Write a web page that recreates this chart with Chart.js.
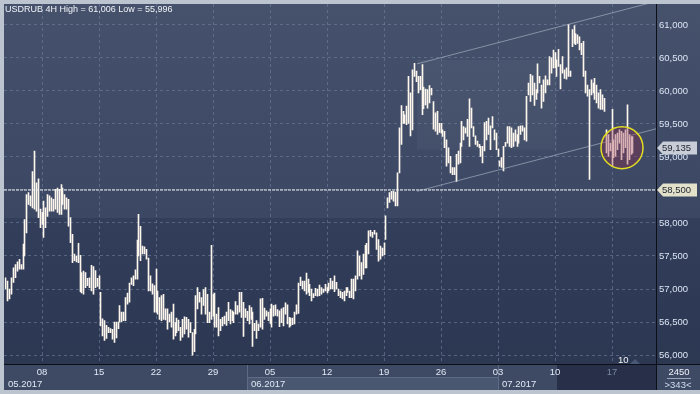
<!DOCTYPE html>
<html>
<head>
<meta charset="utf-8">
<script src="https://cdn.jsdelivr.net/npm/chart.js@4.4.0/dist/chart.umd.min.js"></script>
<style>
  html, body { margin: 0; padding: 0; background: #bcc4cf; }
  #wrap { width: 700px; height: 394px; }
</style>
</head>
<body>
<div id="wrap"><canvas id="chart" width="700" height="394"></canvas></div>
<script>
// USDRUB 4H, one bar per 4 hours, 30 bars per trading week
const weekLabels = ['08', '15', '22', '29', '05', '12', '19', '26', '03', '10', '17']
const weekStartIdx = [19, 49, 79, 109, 139, 169, 199, 229, 259, 289, 319]
const monthLabels = ['05.2017', '06.2017', '07.2017']
const monthStartIdx = [-0.74, 127, 259]
const darkFromIdx = 290.5
const yTicks = [56, 56.5, 57, 57.5, 58, 58.5, 59, 59.5, 60, 60.5, 61]

const barHigh = [
  57.17, 57.12, 57.00, 57.17, 57.32, 57.37, 57.41, 57.45, 57.37, 57.68,
  58.05, 58.43, 58.46, 58.41, 58.78, 59.09, 58.61, 58.67, 58.21, 58.16,
  58.33, 58.23, 58.43, 58.41, 58.38, 58.36, 58.51, 58.53, 58.51, 58.58,
  58.53, 58.43, 58.38, 58.36, 58.08, 57.83, 57.53, 57.50, 57.69, 57.51,
  57.25, 57.27, 57.25, 57.16, 57.17, 57.36, 57.34, 57.28, 57.16, 57.20,
  56.95, 56.55, 56.52, 56.45, 56.42, 56.40, 56.39, 56.50, 56.50, 56.50,
  56.75, 56.65, 56.65, 56.87, 56.94, 57.09, 57.17, 57.20, 57.29, 57.74,
  58.13, 57.95, 57.65, 57.64, 57.60, 57.47, 57.20, 57.08, 57.05, 57.30,
  56.97, 56.87, 56.90, 56.92, 56.70, 56.70, 56.62, 56.65, 56.77,
  56.49, 56.56, 56.53, 56.42, 56.54, 56.58, 56.57, 56.54, 56.49, 56.34,
  56.39, 56.90, 57.02, 56.95, 56.87, 56.99, 57.02, 56.92, 56.65, 57.66,
  56.92, 56.94, 56.62, 56.72, 56.54, 56.57, 56.59, 56.65, 56.80, 56.69,
  56.67, 56.65, 56.81, 56.75, 56.95, 56.95, 56.80, 56.70, 56.66, 56.75,
  56.72, 56.65, 56.48, 56.52, 56.47, 56.85, 56.86, 56.71, 56.67, 56.65,
  56.70, 56.77, 56.75, 56.76, 56.69, 56.67, 56.70, 56.72, 56.79, 56.76,
  56.57, 56.56, 56.56, 56.65, 56.76, 57.09, 57.18, 57.12, 57.12, 57.24,
  57.15, 57.07, 57.00, 56.93, 57.01, 57.00, 57.06, 57.02, 57.00, 57.07,
  57.02, 57.09, 57.16, 57.12, 57.20, 57.10, 57.00, 56.97, 56.95, 56.97,
  57.02, 57.02, 56.97, 57.15, 57.15, 57.20, 57.58, 57.50, 57.40, 57.53,
  57.66, 57.69, 57.88, 57.89, 57.86, 57.89,
  57.85, 57.75, 57.65, 57.62, 57.70,
  58.11, 58.38, 58.46, 58.48, 58.48, 58.47, 58.76, 59.44, 59.78, 59.69,
  59.64, 59.77, 60.22, 59.97, 60.32, 60.42, 60.30, 60.22, 60.22, 60.40,
  60.06, 60.03, 60.02, 60.08, 60.04, 59.84, 59.67, 59.69, 59.51, 59.51,
  59.41, 59.39, 59.26, 59.14, 59.01, 58.84, 58.84, 59.04, 59.09, 59.21,
  59.54, 59.46, 59.44, 59.57, 59.88, 59.74, 59.46, 59.32, 59.24, 59.19,
  59.16, 59.16, 59.52, 59.54, 59.59, 59.47, 59.61, 59.41, 59.36, 59.12,
  58.94, 58.99, 59.16, 59.22, 59.46, 59.46, 59.44, 59.36, 59.41, 59.34,
  59.46, 59.47, 59.47, 59.44, 59.92, 60.12, 60.25, 60.23, 60.12, 60.02,
  60.41, 60.22, 60.09, 60.17, 60.23, 60.17, 60.52, 60.50, 60.62, 60.58,
  60.47, 60.63, 60.40, 60.52, 60.32, 60.35, 61.006, 60.30, 60.93, 60.99,
  60.87, 60.85, 60.82, 60.72, 60.75, 60.30, 60.09, 60.02, 60.17, 60.12,
  60.19, 60.09, 59.97,
  60.02, 59.94, 59.89, 59.41, 59.34, 59.21, 59.72, 59.26, 59.34, 59.36,
  59.41, 59.39, 59.36, 59.41, 59.79, 59.34, 59.31, 59.31
]

const barLow = [
  57.00, 56.82, 56.85, 56.92, 57.10, 57.17, 57.27, 57.30, 57.30, 57.30,
  57.50, 57.85, 58.28, 58.26, 58.23, 58.21, 58.18, 58.08, 57.93, 57.98,
  57.78, 57.93, 58.10, 58.18, 58.18, 58.18, 58.21, 58.16, 58.13, 58.13,
  58.28, 58.21, 58.21, 57.95, 57.70, 57.40, 57.43, 57.41, 57.40, 56.96,
  56.94, 56.92, 57.02, 57.05, 57.02, 56.97, 56.92, 57.02, 57.04, 57.00,
  56.44, 56.29, 56.22, 56.25, 56.34, 56.34, 56.24, 56.19, 56.26, 56.40,
  56.50, 56.50, 56.52, 56.52, 56.77, 56.80, 57.07, 57.05, 57.15, 57.15,
  57.50, 57.43, 57.53, 57.53, 57.45, 56.97, 56.97, 56.92, 56.65, 56.65,
  56.62, 56.54, 56.52, 56.54, 56.53, 56.39, 56.50, 56.42, 56.24,
  56.29, 56.34, 56.37, 56.22, 56.27, 56.32, 56.39, 56.27, 56.34, 55.996,
  56.05, 56.32, 56.70, 56.80, 56.62, 56.75, 56.62, 56.49, 56.49, 56.54,
  56.59, 56.42, 56.42, 56.29, 56.37, 56.44, 56.47, 56.45, 56.52, 56.47,
  56.52, 56.49, 56.62, 56.62, 56.65, 56.57, 56.28, 56.57, 56.52, 56.47,
  56.54, 56.13, 56.37, 56.25, 56.37, 56.42, 56.39, 56.54, 56.59, 56.52,
  56.48, 56.42, 56.59, 56.60, 56.59, 56.43, 56.49, 56.44, 56.62, 56.47,
  56.42, 56.44, 56.46, 56.47, 56.62, 56.63, 57.05, 57.00, 56.97, 56.92,
  56.95, 56.90, 56.82, 56.87, 56.90, 56.89, 56.90, 56.92, 56.95, 56.97,
  56.94, 56.97, 57.00, 57.00, 56.96, 57.00, 56.90, 56.87, 56.85, 56.82,
  56.90, 56.95, 56.87, 56.87, 56.85, 56.97, 57.15, 57.20, 57.15, 57.22,
  57.32, 57.32, 57.53, 57.80, 57.78, 57.83,
  57.60, 57.42, 57.45, 57.50, 57.52,
  57.75, 58.23, 58.31, 58.36, 58.33, 58.26, 58.26, 58.76, 59.19, 59.51,
  59.51, 59.49, 59.51, 59.32, 59.41, 60.22, 60.14, 59.97, 60.02, 59.64,
  59.73, 59.79, 59.74, 59.82, 59.94, 59.42, 59.39, 59.34, 59.37, 59.36,
  59.31, 59.14, 58.86, 58.91, 58.76, 58.73, 58.73, 58.63, 58.89, 58.91,
  59.16, 59.26, 59.36, 59.31, 59.16, 59.44, 59.31, 59.19, 59.16, 59.14,
  59.01, 58.91, 59.09, 59.26, 59.34, 59.11, 59.44, 59.26, 59.11, 59.01,
  58.86, 58.84, 58.79, 59.16, 59.21, 59.16, 59.14, 59.16, 59.24, 59.16,
  59.21, 59.34, 59.39, 59.26, 59.24, 59.94, 59.84, 59.94, 59.78, 59.87,
  59.97, 60.12, 59.74, 59.84, 59.97, 60.09, 60.09, 60.27, 60.35, 60.35,
  60.22, 60.37, 60.03, 60.27, 60.19, 60.18, 60.22, 60.22, 60.67, 60.72,
  60.70, 60.72, 60.62, 60.55, 60.22, 59.97, 59.92, 58.66, 59.94, 59.97,
  59.87, 59.82, 59.74,
  59.72, 59.72, 59.69, 59.06, 59.01, 59.09, 58.86, 58.99, 59.01, 59.11,
  59.21, 58.96, 59.06, 59.14, 58.89, 58.96, 59.04, 59.06
]

// drawn objects: trend channel, support level, circle, shaded box
const channelIdx = [216.6, 343]
const channelUpper = [60.41, 61.36]
const channelLower = [58.48, 59.43]
const levelPrice = 58.5
const lastPrice = 59.135
const circlePoint = { x: 324.5, y: 59.14 }
const boxIdx = [216.6, 290.5]
const boxPrice = [60.47, 59.11]

const FONT = "'Liberation Sans', Arial, sans-serif"
const fmt = v => v.toFixed(3).replace('.', ',')

const bars = barHigh.map((h, i) => ({ x: i, y: [barLow[i], h] }))

const panelPlugin = {
    id: 'panel',
    beforeDraw(chart) {
        const { ctx, chartArea: a, scales: { x, y } } = chart
        const W = chart.width, H = chart.height
        ctx.save()
        ctx.fillStyle = '#bcc4cf'
        ctx.fillRect(0, 0, W, H)
        // plot + right axis background, two bands
        const split = 218
        let g = ctx.createLinearGradient(0, 4, 0, split)
        g.addColorStop(0, '#46526c')
        g.addColorStop(1, '#3b4763')
        ctx.fillStyle = g
        ctx.fillRect(4, 4, W - 4, split - 4)
        g = ctx.createLinearGradient(0, split, 0, a.bottom)
        g.addColorStop(0, '#323e5a')
        g.addColorStop(1, '#2c3852')
        ctx.fillStyle = g
        ctx.fillRect(4, split, W - 4, a.bottom - split)
        // shaded box
        const bx0 = x.getPixelForValue(boxIdx[0]), bx1 = x.getPixelForValue(boxIdx[1])
        const by0 = y.getPixelForValue(boxPrice[0]), by1 = y.getPixelForValue(boxPrice[1])
        ctx.fillStyle = 'rgba(255,255,255,0.035)'
        ctx.fillRect(bx0, by0, bx1 - bx0, by1 - by0)
        // bottom time panel
        const top = a.bottom, bot = H - 4
        ctx.fillStyle = '#3e4a64'
        ctx.fillRect(4, top, W - 4, bot - top)
        const m1 = x.getPixelForValue(monthStartIdx[1]), m2 = x.getPixelForValue(monthStartIdx[2])
        ctx.fillStyle = '#4a5771'
        ctx.fillRect(m1, top + 13, m2 - m1, bot - top - 13)
        const d0 = x.getPixelForValue(darkFromIdx)
        ctx.fillStyle = '#273048'
        ctx.fillRect(d0, top, a.right - d0, bot - top)
        ctx.strokeStyle = '#5f6b85'
        ctx.lineWidth = 1
        ctx.beginPath()
        for (const m of [m1, m2]) {
            ctx.moveTo(Math.round(m) + 0.5, top)
            ctx.lineTo(Math.round(m) + 0.5, bot)
        }
        ctx.moveTo(m1, top + 13.5)
        ctx.lineTo(m2, top + 13.5)
        ctx.stroke()
        ctx.restore()
    },
    // bars sit on whole pixels; shift half a pixel so 1px bars are crisp
    beforeDatasetDraw(chart, args) {
        if (args.meta.type === 'bar') {
            chart.ctx.save()
            chart.ctx.translate(0.5, 0)
        }
    },
    afterDatasetDraw(chart, args) {
        if (args.meta.type === 'bar') chart.ctx.restore()
    },
    afterDraw(chart) {
        const { ctx, chartArea: a, scales: { x, y } } = chart
        const W = chart.width, H = chart.height
        ctx.save()
        // separators between plot and axes
        ctx.strokeStyle = '#0c0f18'
        ctx.lineWidth = 1
        ctx.beginPath()
        ctx.moveTo(4, a.bottom + 0.5)
        ctx.lineTo(W, a.bottom + 0.5)
        ctx.moveTo(a.right + 0.5, 4)
        ctx.lineTo(a.right + 0.5, H - 4)
        ctx.stroke()

        // title
        ctx.fillStyle = '#f2f4f8'
        ctx.font = '9px ' + FONT
        ctx.textBaseline = 'alphabetic'
        ctx.textAlign = 'left'
        ctx.fillText('USDRUB 4H High = 61,006 Low = 55,996', 5, 12)

        // month labels
        ctx.fillStyle = '#e0e8f5'
        ctx.font = '9.5px ' + FONT
        monthLabels.forEach((m, i) => {
            const px = Math.max(a.left, x.getPixelForValue(monthStartIdx[i]))
            ctx.fillText(m, px + 4, H - 7)
        })

        // bar count marker
        ctx.fillStyle = '#f2f4f8'
        ctx.fillText('10', 618, a.bottom - 1)
        ctx.fillStyle = '#4a5878'
        ctx.beginPath()
        ctx.moveTo(630, a.bottom)
        ctx.lineTo(635, a.bottom - 5)
        ctx.lineTo(640, a.bottom)
        ctx.fill()

        // corner box
        ctx.textAlign = 'center'
        ctx.fillStyle = '#eef2f8'
        ctx.fillText('2450', 679, a.bottom + 11)
        ctx.fillStyle = '#cfdcf0'
        ctx.fillText('>343<', 678, a.bottom + 24)
        ctx.strokeStyle = '#9aa6bb'
        ctx.beginPath()
        ctx.moveTo(667, a.bottom + 14.5)
        ctx.lineTo(691, a.bottom + 14.5)
        ctx.stroke()

        // price tags on the right axis
        const tag = (price, fill, text) => {
            const cy = Math.round(y.getPixelForValue(price))
            const x0 = a.right + 1
            ctx.fillStyle = fill
            ctx.beginPath()
            ctx.moveTo(x0, cy)
            ctx.lineTo(x0 + 6, cy - 6.5)
            ctx.lineTo(W - 3, cy - 6.5)
            ctx.lineTo(W - 3, cy + 6.5)
            ctx.lineTo(x0 + 6, cy + 6.5)
            ctx.closePath()
            ctx.fill()
            ctx.fillStyle = text
            ctx.textAlign = 'left'
            ctx.textBaseline = 'middle'
            ctx.font = '9.5px ' + FONT
            ctx.fillText(fmt(price), x0 + 5, cy + 0.5)
        }
        tag(levelPrice, '#e4e1cb', '#1c2230')
        tag(lastPrice, '#c8cdd7', '#1c2230')
        ctx.restore()
    }
}

const noEdgePadding = s => {
    s.paddingTop = 0
    s.paddingBottom = 0
    s.paddingLeft = 0
    s.paddingRight = 0
}

new Chart(document.getElementById('chart'), {
    data: {
        datasets: [
            {
                type: 'bubble',
                data: [{ x: circlePoint.x, y: circlePoint.y, r: 21 }],
                backgroundColor: 'rgba(150,40,70,0.33)',
                borderColor: '#e2dd22',
                borderWidth: 1.5,
                order: 0
            },
            {
                type: 'line',
                data: channelIdx.map((v, i) => ({ x: v, y: channelUpper[i] })),
                borderColor: 'rgba(190,198,214,0.55)',
                borderWidth: 1,
                pointRadius: 0,
                order: 1
            },
            {
                type: 'line',
                data: channelIdx.map((v, i) => ({ x: v, y: channelLower[i] })),
                borderColor: 'rgba(190,198,214,0.55)',
                borderWidth: 1,
                pointRadius: 0,
                order: 1
            },
            {
                type: 'line',
                data: [{ x: -1, y: levelPrice }, { x: 343, y: levelPrice }],
                borderColor: '#f4f4f0',
                borderWidth: 1,
                borderDash: [3, 1],
                pointRadius: 0,
                order: 1
            },
            {
                type: 'bar',
                data: bars,
                backgroundColor: '#fdf6ec',
                barThickness: 1,
                order: 3
            }
        ]
    },
    options: {
        responsive: false,
        animation: false,
        events: [],
        layout: { autoPadding: false, padding: { left: 4, top: 4, right: 0, bottom: 4 } },
        plugins: { legend: { display: false }, tooltip: { enabled: false } },
        scales: {
            x: {
                type: 'linear',
                offset: false,
                alignToPixels: true,
                min: -0.74,
                max: 342.4,
                afterBuildTicks: s => { s.ticks = weekStartIdx.map(v => ({ value: v })) },
                afterFit: s => { s.height = 26; noEdgePadding(s) },
                grid: { color: 'rgba(112,128,158,0.6)', drawTicks: false, offset: false },
                border: { display: false, dash: [3, 3] },
                ticks: {
                    autoSkip: false,
                    maxRotation: 0,
                    padding: 3,
                    font: { family: FONT, size: 9.5 },
                    color: c => (c.tick && c.tick.value === 319 ? '#7a879e' : '#e0e8f5'),
                    callback: v => weekLabels[weekStartIdx.indexOf(v)]
                }
            },
            y: {
                position: 'right',
                min: 55.864,
                max: 61.317,
                afterBuildTicks: s => { s.ticks = yTicks.map(v => ({ value: v })) },
                afterFit: s => { s.width = 44; noEdgePadding(s) },
                grid: { color: 'rgba(112,128,158,0.6)', drawTicks: false },
                border: { display: false, dash: [3, 3] },
                ticks: {
                    padding: 3,
                    font: { family: FONT, size: 9.5 },
                    color: '#dbe5f4',
                    callback: v => fmt(v)
                }
            }
        }
    },
    plugins: [panelPlugin]
})
</script>
</body>
</html>
